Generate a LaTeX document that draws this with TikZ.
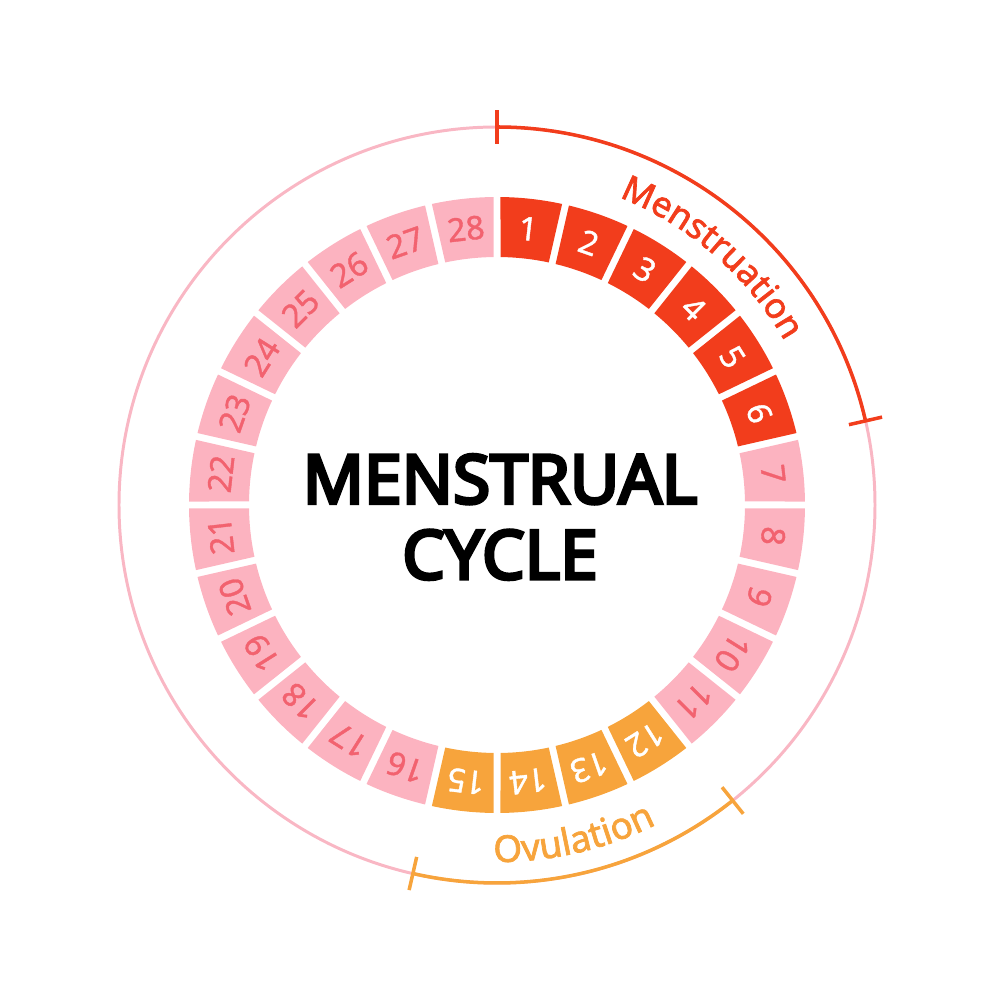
\documentclass[tikz,border=0pt]{standalone}
\usepackage{fontspec}
\setmainfont{Noto Sans}
\newfontfamily\labelfont{Noto Sans}[FakeBold=1.2]
\newfontfamily\phasefont{Noto Sans}[FakeBold=2]
\newfontfamily\titlefont{Noto Sans}[FakeBold=5]
\usepackage{tikz}
\usetikzlibrary{decorations.text}

\definecolor{mensred}{HTML}{F23D1C}
\definecolor{ovuorange}{HTML}{F7A43C}
\definecolor{daypink}{HTML}{FCB3C0}
\definecolor{numpink}{HTML}{F2626F}
\definecolor{ringpink}{HTML}{F9B7C4}

\begin{document}
\begin{tikzpicture}[
        x=0.02cm,
        y=0.02cm,
        daynum/.style={
            font=\labelfont\fontsize{18.5}{18}\selectfont,
            inner sep=0pt
        },
        phasearc/.style={
            line width=2pt
        },
        title/.style={
            font=\titlefont\fontsize{38.5}{43}\selectfont,
            align=center
        }
    ]

    \useasboundingbox (-497,-495) rectangle (503,505);

    % --------------------------------------------------------
    % Outer cycle ring
    % --------------------------------------------------------

    \draw[
        ringpink,
        line width=1.7pt
    ]
    (0,0) circle (378);

    % --------------------------------------------------------
    % 28 day tiles
    % --------------------------------------------------------

    \foreach \d in {1,...,28} {

        \pgfmathsetmacro{\a}{90-(\d-1)*360/28}
        \pgfmathsetmacro{\b}{\a-360/28}
        \pgfmathsetmacro{\m}{\a-180/28}

        \ifnum\d<7
            \def\tilecol{mensred}\def\txtcol{white}
        \else
            \ifnum\d>11
                \ifnum\d<16
                    \def\tilecol{ovuorange}\def\txtcol{white}
                \else
                    \def\tilecol{daypink}\def\txtcol{numpink}
                \fi
            \else
                \def\tilecol{daypink}\def\txtcol{numpink}
            \fi
        \fi

        \fill[\tilecol]
        (\a-0.651:308)
        arc[
            start angle=\a-0.651,
            end angle=\b+0.651,
            radius=308
        ]
        -- (\b+0.809:248)
        arc[
            start angle=\b+0.809,
            end angle=\a-0.809,
            radius=248
        ]
        -- cycle;

        \node[
            daynum,
            text=\txtcol,
            rotate=\m-90
        ]
        (d\d)
        at (\m:278) {\d};

    }

    % --------------------------------------------------------
    % Menstruation phase (days 1--6)
    % --------------------------------------------------------

    \draw[
        mensred,
        phasearc
    ]
    (90:378)
    arc[
        start angle=90,
        end angle=12.857,
        radius=378
    ];

    \foreach \t in {90,12.857} {
        \draw[
            mensred,
            phasearc
        ]
        (\t:361) -- (\t:395);
    }

    \path[
        decorate,
        decoration={
            text along path,
            text align=center,
            text color=mensred,
            text={|\phasefont\fontsize{20}{22}\selectfont|Menstruation}
        }
    ]
    (89:331)
    arc[
        start angle=89,
        end angle=9,
        radius=331
    ];

    % --------------------------------------------------------
    % Ovulation phase (days 12--15)
    % --------------------------------------------------------

    \draw[
        ovuorange,
        phasearc
    ]
    (-51.429:378)
    arc[
        start angle=-51.429,
        end angle=-102.857,
        radius=378
    ];

    \foreach \t in {-51.429,-102.857} {
        \draw[
            ovuorange,
            phasearc
        ]
        (\t:361) -- (\t:395);
    }

    \path[
        decorate,
        decoration={
            text along path,
            text align=center,
            text color=ovuorange,
            text={|\phasefont\fontsize{21}{22}\selectfont|Ovulation}
        }
    ]
    (-104:357)
    arc[
        start angle=-104,
        end angle=-50,
        radius=357
    ];

    % --------------------------------------------------------
    % Title
    % --------------------------------------------------------

    \node[
        title
    ]
    (title)
    at (3,-12)
    {MENSTRUAL\\CYCLE};

\end{tikzpicture}
\end{document}
